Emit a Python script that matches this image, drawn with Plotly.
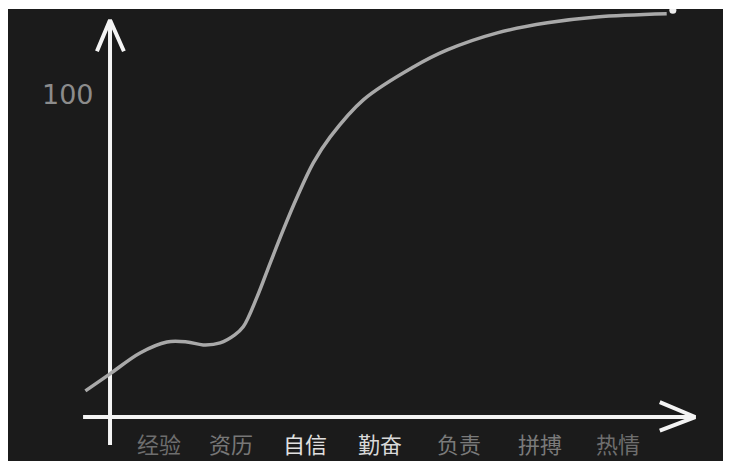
import plotly.graph_objects as go

# Chalkboard growth curve
curve_x = [-0.32, 0.0, 0.39, 0.74, 1.0, 1.21, 1.43, 1.62, 1.73, 1.91, 2.08, 2.25,
           2.43, 2.64, 2.86, 3.29, 3.94, 4.38, 5.03, 5.68, 6.32, 7.23]
curve_y = [8.1, 13.4, 19.9, 23.3, 23.3, 22.4, 23.0, 25.5, 28.0, 37.3, 47.8, 58.1,
           68.3, 78.9, 87.0, 98.5, 108.7, 114.0, 119.3, 122.4, 124.2, 125.2]

labels = ["经验", "资历", "自信", "勤奋", "负责", "拼搏", "热情"]
label_x = [0.64, 1.57, 2.53, 3.51, 4.53, 5.58, 6.60]
label_colors = ["#6e6e6e", "#777777", "#e0e0e0", "#d8d8d8", "#7a7a7a", "#7a7a7a", "#6e6e6e"]
y_tick_value = 100
y_tick_text = "100"

BG = "#1b1b1b"
AXIS = "#f4f4f4"

fig = go.Figure()

# axes (chalk lines with arrows)
fig.add_trace(go.Scatter(x=[0, 0], y=[-8.7, 123.3], mode="lines",
                         line=dict(color=AXIS, width=4), hoverinfo="skip"))
fig.add_trace(go.Scatter(x=[-0.17, 0, 0.18], y=[113.6, 123.3, 113.6], mode="lines",
                         line=dict(color=AXIS, width=4), hoverinfo="skip"))
fig.add_trace(go.Scatter(x=[-0.35, 7.6], y=[0, 0], mode="lines",
                         line=dict(color=AXIS, width=4), hoverinfo="skip"))
fig.add_trace(go.Scatter(x=[7.14, 7.6, 7.14], y=[4.6, 0, -4.2], mode="lines",
                         line=dict(color=AXIS, width=4), hoverinfo="skip"))

# the curve
fig.add_trace(go.Scatter(x=curve_x, y=curve_y, mode="lines",
                         line=dict(color="#a9a9a9", width=3.5, shape="spline", smoothing=1.0),
                         hoverinfo="skip"))
fig.add_trace(go.Scatter(x=[7.31], y=[126.3], mode="markers",
                         marker=dict(color="#eeeeee", size=7), hoverinfo="skip"))

annotations = [dict(x=-0.545, y=y_tick_value, text=y_tick_text, showarrow=False,
                    font=dict(family="DejaVu Sans", size=27, color="#8c8c8c"),
                    xanchor="center", yanchor="middle")]
for t, x, c in zip(labels, label_x, label_colors):
    annotations.append(dict(x=x, y=-8.0, text=t, showarrow=False,
                            font=dict(family="Noto Sans CJK SC", size=22, color=c),
                            xanchor="center", yanchor="middle", borderpad=0))

# page body has an 8px margin, so the figure is sized to fill the rest of the window
fig.update_layout(
    width=723, height=453,
    margin=dict(l=0, r=0, t=1, b=0),
    paper_bgcolor="white", plot_bgcolor=BG,
    showlegend=False,
    xaxis=dict(range=[-1.325, 8.065], visible=False, fixedrange=True),
    yaxis=dict(range=[-13.66, 126.7], visible=False, fixedrange=True),
    annotations=annotations,
)

fig.write_html("out.html")
